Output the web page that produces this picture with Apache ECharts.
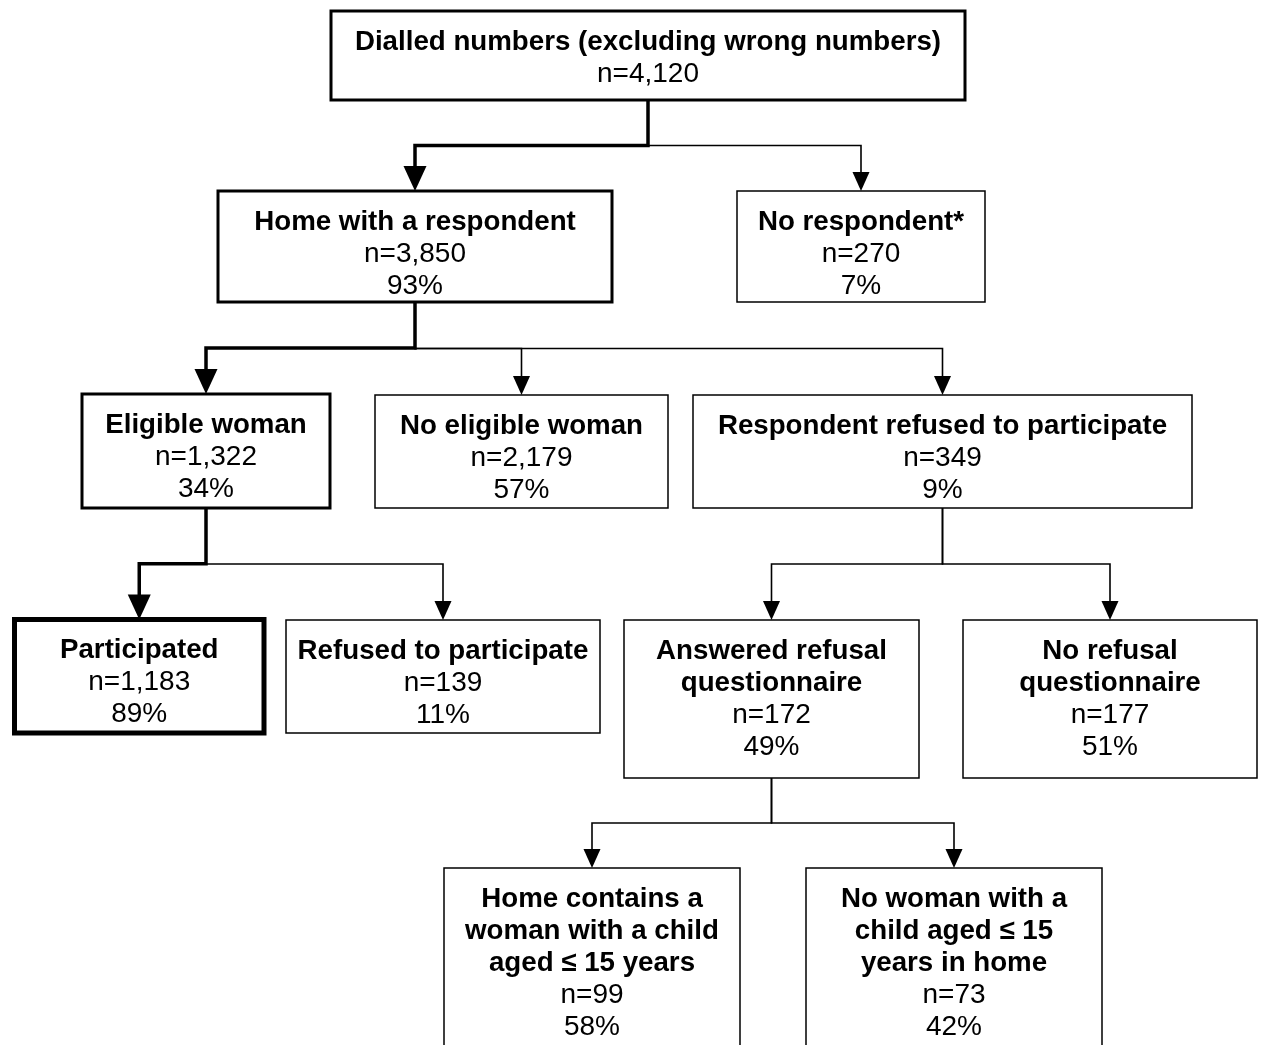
<!DOCTYPE html>
<html>
<head>
<meta charset="utf-8">
<script src="https://cdn.jsdelivr.net/npm/echarts@6/dist/echarts.min.js"></script>
<style>
  html, body { margin: 0; padding: 0; background: #ffffff; }
  #main { width: 1264px; height: 1045px; }
</style>
</head>
<body>
<div id="main"></div>
<script>
// box texts
var titles = [
  'Dialled numbers (excluding wrong numbers)',
  'Home with a respondent',
  'No respondent*',
  'Eligible woman',
  'No eligible woman',
  'Respondent refused to participate',
  'Participated',
  'Refused to participate',
  'Answered refusal\nquestionnaire',
  'No refusal\nquestionnaire',
  'Home contains a\nwoman with a child\naged ≤ 15 years',
  'No woman with a\nchild aged ≤ 15\nyears in home'
];
var counts = ['4,120', '3,850', '270', '1,322', '2,179', '349', '1,183', '139', '172', '177', '99', '73'];
var shares = ['', '93%', '7%', '34%', '57%', '9%', '89%', '11%', '49%', '51%', '58%', '42%'];
// tree structure: parent of each box (-1 = root)
var parents = [-1, 0, 0, 1, 1, 1, 3, 3, 5, 5, 8, 8];
// boxes on the heavy path
var mainPath = [0, 1, 3, 6];

// layout, in the page's pixel units: [left, top, right, bottom]
var boxes = [
  [331, 11, 965, 100],
  [218, 191, 612, 302],
  [737, 191, 985, 302],
  [82, 394, 330, 508],
  [375, 395, 668, 508],
  [693, 395, 1192, 508],
  [14.5, 619.5, 264, 733],
  [286, 620, 600, 733],
  [624, 620, 919, 778],
  [963, 620, 1257, 778],
  [444, 868, 740, 1065],
  [806, 868, 1102, 1065]
];
var borders = [3, 3, 1.5, 3, 1.5, 1.5, 5, 1.5, 1.5, 1.5, 1.5, 1.5];

var FONT = '"Liberation Sans", Arial, Helvetica, sans-serif';

var chart = echarts.init(document.getElementById('main'));

function renderBox(params, api) {
  var i = params.dataIndex;
  var b = boxes[i];
  var p0 = api.coord([b[0], b[1]]);
  var p1 = api.coord([b[2], b[3]]);
  var cx = (p0[0] + p1[0]) / 2;
  var children = [{
    type: 'rect',
    shape: { x: p0[0], y: p0[1], width: p1[0] - p0[0], height: p1[1] - p0[1] },
    style: { fill: '#ffffff', stroke: '#000000', lineWidth: borders[i] }
  }];
  var lines = titles[i].split('\n').map(function (t) { return { text: t, bold: true }; });
  lines.push({ text: 'n=' + counts[i] });
  if (shares[i]) lines.push({ text: shares[i] });
  lines.forEach(function (ln, k) {
    children.push({
      type: 'text',
      style: {
        text: ln.text,
        x: cx,
        y: p0[1] + 31 + k * 32,
        align: 'center',
        verticalAlign: 'middle',
        fontFamily: FONT,
        fontSize: ln.bold ? 27.7 : 28,
        fontWeight: ln.bold ? 'bold' : 'normal',
        fill: '#000000'
      }
    });
  });
  return { type: 'group', children: children };
}

// links, thin ones first so heavy ones sit on top
var links = [];
parents.forEach(function (p, i) { if (p >= 0 && mainPath.indexOf(i) < 0) links.push(i); });
parents.forEach(function (p, i) { if (p >= 0 && mainPath.indexOf(i) >= 0) links.push(i); });

function renderLink(params, api) {
  var c = links[params.dataIndex];
  var pb = boxes[parents[c]];
  var cb = boxes[c];
  var px = (pb[0] + pb[2]) / 2;
  var cx = (cb[0] + cb[2]) / 2;
  var midY = (pb[3] + cb[1]) / 2;
  var heavy = mainPath.indexOf(c) >= 0;
  var ah = heavy ? 25 : 19;
  var aw = heavy ? 23 : 17;
  var pts = [[px, pb[3]], [px, midY], [cx, midY], [cx, cb[1] - ah + 2]].map(function (d) { return api.coord(d); });
  var tip = api.coord([cx, cb[1]]);
  return {
    type: 'group',
    children: [{
      type: 'polyline',
      shape: { points: pts },
      style: { stroke: '#000000', lineWidth: heavy ? 3.5 : 1.6, fill: null, lineJoin: 'miter', lineCap: 'butt' }
    }, {
      type: 'polygon',
      shape: { points: [[tip[0], tip[1]], [tip[0] - aw / 2, tip[1] - ah], [tip[0] + aw / 2, tip[1] - ah]] },
      style: { fill: '#000000' }
    }]
  };
}

var option = {
  backgroundColor: '#ffffff',
  animation: false,
  grid: { left: 0, right: 0, top: 0, bottom: 0 },
  xAxis: { type: 'value', min: 0, max: 1264, show: false },
  yAxis: { type: 'value', min: 0, max: 1045, inverse: true, show: false },
  series: [{
    type: 'custom',
    name: 'links',
    z: 1,
    renderItem: renderLink,
    data: links.map(function (c) { return [(boxes[c][0] + boxes[c][2]) / 2, boxes[c][1]]; })
  }, {
    type: 'custom',
    name: 'boxes',
    z: 2,
    renderItem: renderBox,
    data: boxes.map(function (b) { return [(b[0] + b[2]) / 2, (b[1] + b[3]) / 2]; })
  }]
};
chart.setOption(option);
</script>
</body>
</html>
